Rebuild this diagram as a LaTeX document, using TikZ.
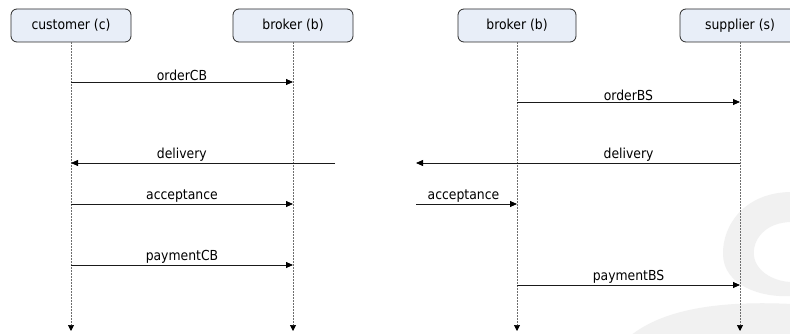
\documentclass[tikz,border=0pt]{standalone}
\usepackage{fontspec}
\setmainfont{DejaVu Sans Condensed}
\usetikzlibrary{arrows.meta}
\definecolor{boxfill}{HTML}{E8EEF8}
\definecolor{boxline}{HTML}{2A2A2A}
\definecolor{lifeline}{HTML}{6E6E6E}
\definecolor{msgline}{HTML}{1A1A1A}
\definecolor{wmark}{HTML}{F1F1F1}
\begin{document}
\begin{tikzpicture}[x=1pt,y=-1pt,font=\fontsize{13.8}{15}\selectfont,
  actor/.style={draw=boxline, fill=boxfill, rounded corners=6pt, minimum width=120pt, minimum height=33pt, line width=0.8pt, inner sep=0pt},
  life/.style={draw=lifeline, line width=0.7pt, dash pattern=on 2pt off 1pt, -{Triangle[length=6pt,width=6pt,color=black]}},
  msg/.style={draw=msgline, line width=0.8pt, -{Triangle[length=7pt,width=6pt,color=black]}},
  lbl/.style={above, inner sep=1pt, text=black}]
\useasboundingbox (0,0) rectangle (790,334);
\fill[white] (0,0) rectangle (790,334);
% faint watermark
\fill[wmark, even odd rule]
  (792,192) .. controls (745,192) and (722,225) .. (723,255)
            .. controls (724,285) and (760,298) .. (792,296) -- cycle
  (792,222) .. controls (765,222) and (752,240) .. (754,256)
            .. controls (756,272) and (775,282) .. (792,282) -- cycle;
\fill[wmark] (630,336) .. controls (660,312) and (710,300) .. (792,304) -- (792,336) -- cycle;
% actors
\node[actor] (c)  at (71,25.5)  {customer (c)};
\node[actor] (b1) at (293,25.5) {broker (b)};
\node[actor, minimum width=118pt] (b2) at (517,25.5) {broker (b)};
\node[actor] (s)  at (740,25.5) {supplier (s)};
% lifeline ends
\coordinate (cE)  at (c.south  |- 0,331);
\coordinate (b1E) at (b1.south |- 0,331);
\coordinate (b2E) at (b2.south |- 0,331);
\coordinate (sE)  at (s.south  |- 0,331);
\draw[life] (c.south)  -- (cE);
\draw[life] (b1.south) -- (b1E);
\draw[life] (b2.south) -- (b2E);
\draw[life] (s.south)  -- (sE);
% message points, left diagram
\coordinate (c1)  at (c.south  |- 0,82);
\coordinate (b11) at (b1.south |- 0,82);
\coordinate (c2)  at (c.south  |- 0,163);
\coordinate (dL)  at (335,163);
\coordinate (c3)  at (c.south  |- 0,204);
\coordinate (b13) at (b1.south |- 0,204);
\coordinate (c4)  at (c.south  |- 0,265);
\coordinate (b14) at (b1.south |- 0,265);
% message points, right diagram
\coordinate (b21) at (b2.south |- 0,102);
\coordinate (s1)  at (s.south  |- 0,102);
\coordinate (s2)  at (s.south  |- 0,163);
\coordinate (dR)  at (416,163);
\coordinate (aR)  at (416,204);
\coordinate (b23) at (b2.south |- 0,204);
\coordinate (b24) at (b2.south |- 0,285);
\coordinate (s4)  at (s.south  |- 0,285);
% left messages
\draw[msg] (c1) -- node[lbl] {orderCB} (b11);
\draw[msg] (dL) -- node[lbl, pos=0.58] {delivery} (c2);
\draw[msg] (c3) -- node[lbl] {acceptance} (b13);
\draw[msg] (c4) -- node[lbl] {paymentCB} (b14);
% right messages
\draw[msg] (b21) -- node[lbl] {orderBS} (s1);
\draw[msg] (s2) -- node[lbl, pos=0.344] {delivery} (dR);
\draw[msg] (aR) -- node[lbl, pos=0.47] {acceptance} (b23);
\draw[msg] (b24) -- node[lbl] {paymentBS} (s4);
\end{tikzpicture}
\end{document}
